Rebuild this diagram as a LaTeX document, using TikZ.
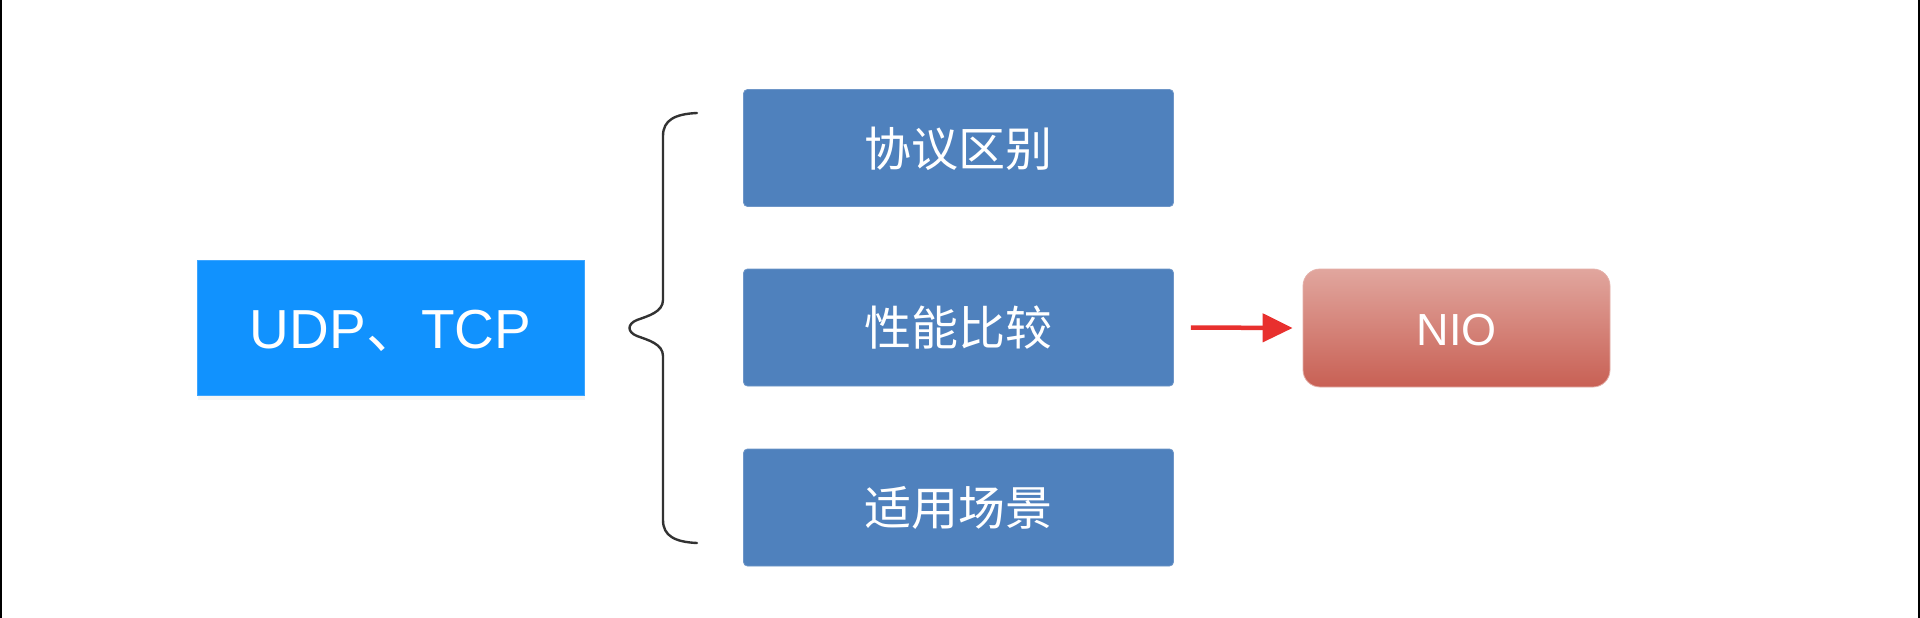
\documentclass[tikz,border=0pt]{standalone}
\usepackage{fontspec}
\setmainfont{Liberation Sans}
\newfontfamily\cjk{Noto Sans CJK SC}
\usetikzlibrary{arrows.meta,shadows}
\definecolor{udpblue}{RGB}{17,146,254}
\definecolor{udpedge}{RGB}{60,165,255}
\definecolor{boxblue}{RGB}{79,129,189}
\definecolor{boxedge}{RGB}{110,150,200}
\definecolor{niotop}{RGB}{225,166,158}
\definecolor{niobot}{RGB}{200,96,84}
\definecolor{arrred}{RGB}{232,48,46}
\definecolor{bracegray}{RGB}{50,50,50}
\tikzset{
  topicbox/.style={draw=boxedge, line width=0.8pt, fill=boxblue, rounded corners=4pt,
    minimum width=430pt, minimum height=117pt, inner sep=0pt,
    text=white, font=\cjk\fontsize{47}{50}\selectfont, text height=36pt, text depth=0pt},
  mainbox/.style={draw=udpedge, line width=0.8pt, fill=udpblue,
    minimum width=387pt, minimum height=135pt, inner sep=0pt,
    text=white, font=\fontsize{55}{60}\selectfont, text height=40pt, text depth=0pt,
    drop shadow={opacity=0.08, shadow xshift=1pt, shadow yshift=-4pt}},
  niobox/.style={draw=niotop!90!white, line width=0.8pt, top color=niotop, bottom color=niobot,
    rounded corners=17pt, minimum width=307pt, minimum height=118pt, inner sep=0pt,
    text=white, font=\fontsize{45}{50}\selectfont, text height=34pt, text depth=0pt},
  bracestyle/.style={draw=bracegray, line width=2.4pt, line cap=round},
  edgeline/.style={draw=black, line width=2.4pt},
  redarrow/.style={draw=arrred, line width=4.5pt, -{Triangle[length=30pt,width=28pt,fill=arrred]}}
}
\begin{document}
\begin{tikzpicture}[x=1pt,y=-1pt]
\useasboundingbox (0,0) rectangle (1920,618);
\fill[white] (0,0) rectangle (1920,618);
\coordinate (lt) at (1,0);
\coordinate (lb) at (1,618);
\coordinate (rt) at (1919,0);
\coordinate (rb) at (1919,618);
\draw[edgeline] (lt) -- (lb);
\draw[edgeline] (rt) -- (rb);

\node[mainbox] (udp) at (390.5,328) {UDP{\cjk 、}TCP};

\node[topicbox] (b1) at (958.5,148) {协议区别};
\node[topicbox] (b2) at (958.5,327.5) {性能比较};
\node[topicbox] (b3) at (958.5,507.5) {适用场景};

\node[niobox] (nio) at (1456.5,328) {NIO};

\coordinate (brtop) at (697,113);
\coordinate (brbot) at (697,543);
\draw[bracestyle] (brtop) .. controls (675,114) and (663,120) .. (663,136)
  -- (663,300) .. controls (663,312) and (648,316) .. (637,320)
  .. controls (627,324) and (627,332) .. (637,336)
  .. controls (648,340) and (663,344) .. (663,356)
  -- (663,520) .. controls (663,536) and (675,542) .. (brbot);

\draw[redarrow] ([xshift=17pt]b2.east) -- ([xshift=-10pt]nio.west);
\end{tikzpicture}
\end{document}
